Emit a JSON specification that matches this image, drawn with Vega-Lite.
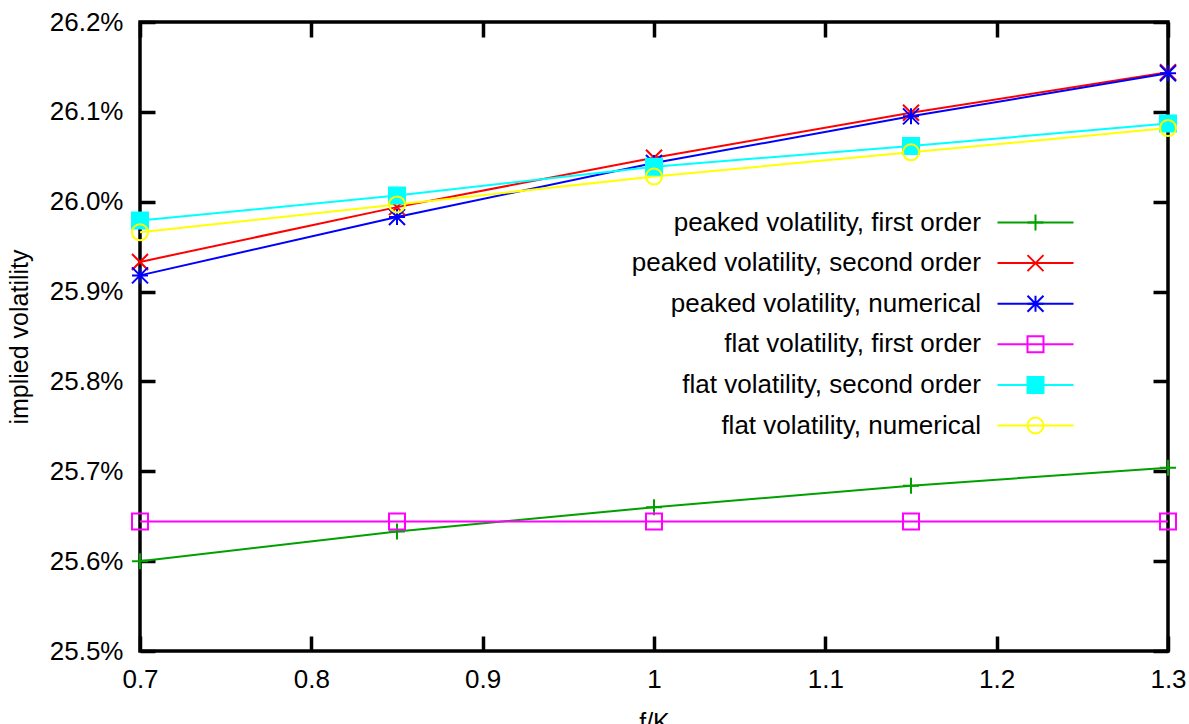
{
  "$schema": "https://vega.github.io/schema/vega-lite/v6.json",
  "width": 1028,
  "height": 629,
  "autosize": {"type": "none"},
  "padding": {"left": 140, "top": 22, "right": 21, "bottom": 73},
  "background": "white",
  "config": {
    "view": {"stroke": "black", "strokeWidth": 3.5},
    "font": "Liberation Sans",
    "axis": {
      "labelFont": "Liberation Sans",
      "titleFont": "Liberation Sans",
      "labelFontSize": 26,
      "titleFontSize": 25,
      "titleFontWeight": "normal",
      "labelColor": "black",
      "titleColor": "black",
      "grid": false,
      "domain": false,
      "tickColor": "black",
      "tickWidth": 3.5,
      "tickSize": -15
    },
    "legend": {
      "labelFont": "Liberation Sans",
      "labelFontSize": 26,
      "labelColor": "black"
    }
  },
  "data": {
    "values": [
      {"series": "peaked volatility, first order", "fk": 0.7, "vol": 0.25600},
      {"series": "peaked volatility, first order", "fk": 0.85, "vol": 0.25633},
      {"series": "peaked volatility, first order", "fk": 1.0, "vol": 0.25660},
      {"series": "peaked volatility, first order", "fk": 1.15, "vol": 0.25684},
      {"series": "peaked volatility, first order", "fk": 1.3, "vol": 0.25704},
      {"series": "peaked volatility, second order", "fk": 0.7, "vol": 0.25933},
      {"series": "peaked volatility, second order", "fk": 0.85, "vol": 0.25994},
      {"series": "peaked volatility, second order", "fk": 1.0, "vol": 0.26049},
      {"series": "peaked volatility, second order", "fk": 1.15, "vol": 0.26099},
      {"series": "peaked volatility, second order", "fk": 1.3, "vol": 0.26144},
      {"series": "peaked volatility, numerical", "fk": 0.7, "vol": 0.25918},
      {"series": "peaked volatility, numerical", "fk": 0.85, "vol": 0.25983},
      {"series": "peaked volatility, numerical", "fk": 1.0, "vol": 0.26043},
      {"series": "peaked volatility, numerical", "fk": 1.15, "vol": 0.26095},
      {"series": "peaked volatility, numerical", "fk": 1.3, "vol": 0.26143},
      {"series": "flat volatility, first order", "fk": 0.7, "vol": 0.25644},
      {"series": "flat volatility, first order", "fk": 0.85, "vol": 0.25644},
      {"series": "flat volatility, first order", "fk": 1.0, "vol": 0.25644},
      {"series": "flat volatility, first order", "fk": 1.15, "vol": 0.25644},
      {"series": "flat volatility, first order", "fk": 1.3, "vol": 0.25644},
      {"series": "flat volatility, second order", "fk": 0.7, "vol": 0.25979},
      {"series": "flat volatility, second order", "fk": 0.85, "vol": 0.26007},
      {"series": "flat volatility, second order", "fk": 1.0, "vol": 0.26039},
      {"series": "flat volatility, second order", "fk": 1.15, "vol": 0.26062},
      {"series": "flat volatility, second order", "fk": 1.3, "vol": 0.26087},
      {"series": "flat volatility, numerical", "fk": 0.7, "vol": 0.25966},
      {"series": "flat volatility, numerical", "fk": 0.85, "vol": 0.25997},
      {"series": "flat volatility, numerical", "fk": 1.0, "vol": 0.26028},
      {"series": "flat volatility, numerical", "fk": 1.15, "vol": 0.26055},
      {"series": "flat volatility, numerical", "fk": 1.3, "vol": 0.26082}
    ]
  },
  "resolve": {"axis": {"x": "independent", "y": "independent"}},
  "layer": [
    {
      "mark": {"type": "line", "strokeWidth": 2},
      "encoding": {
        "x": {
          "field": "fk", "type": "quantitative",
          "scale": {"domain": [0.7, 1.3], "nice": false, "zero": false},
          "axis": {"orient": "bottom", "values": [0.7, 0.8, 0.9, 1.0, 1.1, 1.2, 1.3], "format": ".2~f", "labelPadding": 30, "title": "f/K", "titlePadding": 18, "labelFlush": false}
        },
        "y": {
          "field": "vol", "type": "quantitative",
          "scale": {"domain": [0.255, 0.262], "nice": false, "zero": false},
          "axis": {"orient": "left", "values": [0.255, 0.256, 0.257, 0.258, 0.259, 0.26, 0.261, 0.262], "format": ".1%", "labelPadding": 32, "title": "implied volatility", "titlePadding": 17}
        },
        "stroke": {
          "field": "series", "type": "nominal",
          "sort": ["peaked volatility, first order", "peaked volatility, second order", "peaked volatility, numerical", "flat volatility, first order", "flat volatility, second order", "flat volatility, numerical"],
          "scale": {"range": ["#00a000", "#ff0000", "#0000ff", "#ff00ff", "#00ffff", "#ffff00"]},
          "legend": {
            "orient": "none",
            "legendX": 882.5,
            "legendY": 187.5,
            "title": null,
            "padding": 0,
            "labelAlign": "right",
            "labelOffset": -67.5,
            "labelLimit": 0,
            "symbolType": "M-4.75,0H4.75",
            "symbolSize": 256,
            "symbolStrokeWidth": 2,
            "rowPadding": 14.6
          }
        }
      }
    },
    {
      "mark": {"type": "point", "filled": false, "size": 256, "strokeWidth": 2, "opacity": 1},
      "encoding": {
        "x": {
          "field": "fk", "type": "quantitative",
          "axis": {"orient": "top", "values": [0.7, 0.8, 0.9, 1.0, 1.1, 1.2, 1.3], "labels": false, "title": null}
        },
        "y": {
          "field": "vol", "type": "quantitative",
          "axis": {"orient": "right", "values": [0.255, 0.256, 0.257, 0.258, 0.259, 0.26, 0.261, 0.262], "labels": false, "title": null}
        },
        "color": {
          "field": "series", "type": "nominal",
          "scale": {
            "domain": ["peaked volatility, first order", "peaked volatility, second order", "peaked volatility, numerical", "flat volatility, first order", "flat volatility, second order", "flat volatility, numerical"],
            "range": ["#00a000", "#ff0000", "#0000ff", "#ff00ff", "#00ffff", "#ffff00"]
          },
          "legend": {
            "orient": "none",
            "legendX": 882.5,
            "legendY": 187.5,
            "title": null,
            "padding": 0,
            "labelAlign": "right",
            "labelOffset": -67.5,
            "labelLimit": 0,
            "labelColor": "transparent",
            "symbolSize": 256,
            "symbolStrokeWidth": 2,
            "rowPadding": 14.6
          }
        },
        "shape": {
          "field": "series", "type": "nominal",
          "scale": {
            "domain": ["peaked volatility, first order", "peaked volatility, second order", "peaked volatility, numerical", "flat volatility, first order", "flat volatility, second order", "flat volatility, numerical"],
            "range": [
              "M-1,0H1M0,-1V1",
              "M-1,-1L1,1M-1,1L1,-1",
              "M-1,0H1M0,-1V1M-1,-1L1,1M-1,1L1,-1",
              "M-1,-1H1V1H-1Z",
              "M-1,-1H1V1H-1ZM-1,-0.75H1M-1,-0.5H1M-1,-0.25H1M-1,0H1M-1,0.25H1M-1,0.5H1M-1,0.75H1",
              "circle"
            ]
          },
          "legend": {
            "orient": "none",
            "legendX": 882.5,
            "legendY": 187.5,
            "title": null,
            "padding": 0,
            "labelAlign": "right",
            "labelOffset": -67.5,
            "labelLimit": 0,
            "labelColor": "transparent",
            "symbolSize": 256,
            "symbolStrokeWidth": 2,
            "rowPadding": 14.6
          }
        }
      }
    }
  ]
}
